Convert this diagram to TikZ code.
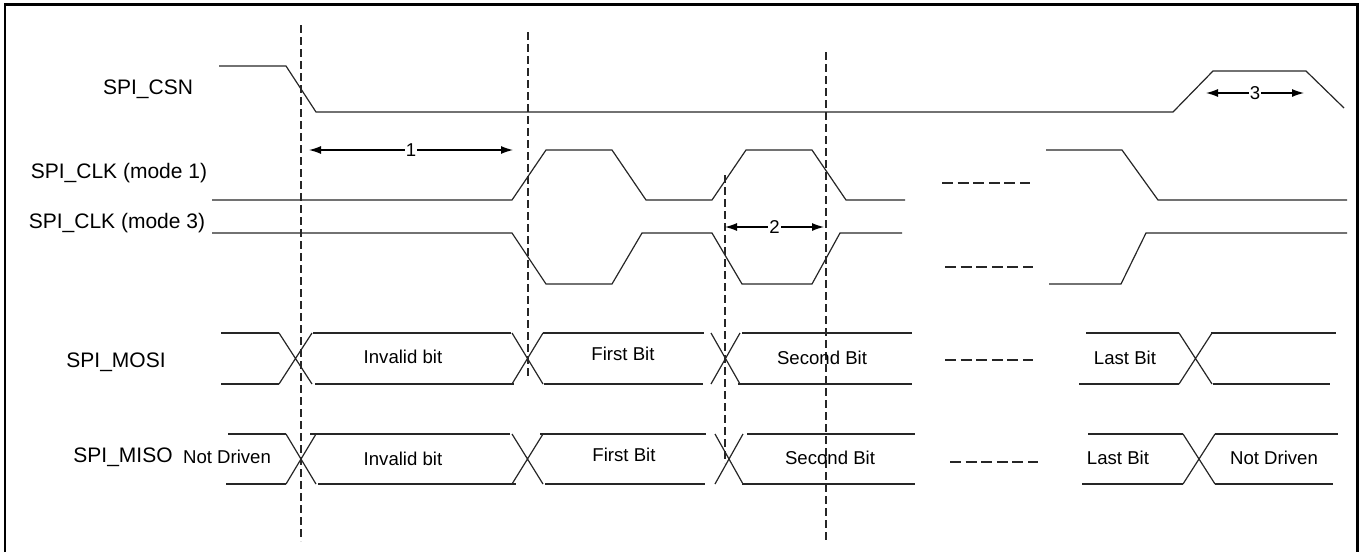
\documentclass[tikz,border=0pt]{standalone}
\usepackage{fontspec}
\setmainfont{Liberation Sans}
\usetikzlibrary{arrows.meta}
\begin{document}
\begin{tikzpicture}[x=0.5pt,y=-0.5pt,
  sig/.style={line width=0.6pt, draw=black!85, line join=miter},
  guide/.style={line width=0.6pt, draw=black!85, dash pattern=on 4pt off 2pt},
  gapline/.style={line width=0.6pt, draw=black!85, dash pattern=on 5.5pt off 2.3pt},
  lbl/.style={font=\fontsize{10.5pt}{12pt}\selectfont, inner sep=0pt},
  bit/.style={font=\fontsize{9.3pt}{11pt}\selectfont, inner sep=0pt},
  dim/.style={line width=0.6pt, {Latex[length=6pt,width=4pt]}-{Latex[length=6pt,width=4pt]}},
  num/.style={font=\fontsize{9.3pt}{11pt}\selectfont, fill=white, inner sep=0.6pt}]
\useasboundingbox (0,0) rectangle (1361,552);
% frame
\draw[line width=1.3pt] (5,552) -- (5,4.5) -- (1357.5,4.5) -- (1357.5,552);

% signal names
\node[lbl] (ncsn) at (148,89) {SPI\_CSN};
\node[lbl] (nclk1) at (119,173) {SPI\_CLK (mode 1)};
\node[lbl] (nclk3) at (117,223) {SPI\_CLK (mode 3)};
\node[lbl] (nmosi) at (116,362) {SPI\_MOSI};
\node[lbl] (nmiso) at (123,457) {SPI\_MISO};

% dashed guides
\coordinate (g1t) at (301,25);  \coordinate (g1b) at (301,541);
\coordinate (g2t) at (528,32);  \coordinate (g2b) at (528,377);
\coordinate (g3t) at (725,175); \coordinate (g3b) at (725,463);
\coordinate (g4t) at (826,52);  \coordinate (g4b) at (826,541);
\draw[guide] (g1t) -- (g1b);
\draw[guide] (g2t) -- (g2b);
\draw[guide] (g3t) -- (g3b);
\draw[guide] (g4t) -- (g4b);

% SPI_CSN
\draw[sig] (219,66) -- (286,66) -- (316,112) -- (1173,112) -- (1213,71) -- (1306,71) -- (1344,108);

% SPI_CLK mode 1
\draw[sig] (212,200) -- (512,200) -- (546,150) -- (612,150) -- (646,200) -- (712,200) -- (746,150) -- (812,150) -- (846,200) -- (905,200);
\draw[gapline] (942,183) -- (1030,183);
\draw[sig] (1046,150) -- (1122,150) -- (1158,200) -- (1347,200);

% SPI_CLK mode 3
\draw[sig] (212,233) -- (512,233) -- (546,284) -- (612,284) -- (642,233) -- (712,233) -- (742,284) -- (812,284) -- (840,233) -- (902,233);
\draw[gapline] (945,267) -- (1033,267);
\draw[sig] (1049,284) -- (1121,284) -- (1146,233) -- (1347,233);

% SPI_MOSI bus (top 333, bottom 384)
\foreach \a/\b in {221/279, 313/511, 543/704, 742/912, 1086/1179, 1211/1336}
  \draw[sig] (\a,333) -- (\b,333);
\foreach \a/\b in {221/279, 315/514, 544/703, 738/912, 1079/1179, 1213/1330}
  \draw[sig] (\a,384) -- (\b,384);
\foreach \a/\b in {279/312, 512/543, 711/740, 1179/1212}
  \draw[sig] (\a,333) -- (\b,384) (\a,384) -- (\b,333);
\draw[gapline] (945,360) -- (1033,360);
\node[bit] (m1) at (403,357) {Invalid bit};
\node[bit] (m2) at (623,354) {First Bit};
\node[bit] (m3) at (822,358) {Second Bit};
\node[bit] (m4) at (1125,358) {Last Bit};

% SPI_MISO bus (top 434, bottom 484)
\foreach \a/\b in {228/286, 310/510, 540/706, 747/915, 1088/1183, 1215/1338}
  \draw[sig] (\a,434) -- (\b,434);
\foreach \a/\b in {226/286, 318/516, 545/705, 742/915, 1082/1183, 1215/1333}
  \draw[sig] (\a,484) -- (\b,484);
\foreach \a/\b in {286/316, 512/543, 715/743, 1183/1215}
  \draw[sig] (\a,434) -- (\b,484) (\a,484) -- (\b,434);
\draw[gapline] (950,462) -- (1038,462);
\node[bit] (s0) at (227,457) {Not Driven};
\node[bit] (s1) at (403,459) {Invalid bit};
\node[bit] (s2) at (624,455) {First Bit};
\node[bit] (s3) at (830,458) {Second Bit};
\node[bit] (s4) at (1118,458) {Last Bit};
\node[bit] (s5) at (1274,458) {Not Driven};

% timing arrows
\coordinate (a1l) at (309,150); \coordinate (a1r) at (513,150);
\coordinate (a2l) at (725,227); \coordinate (a2r) at (824,227);
\coordinate (a3l) at (1206,93); \coordinate (a3r) at (1304,93);
\draw[dim] (a1l) -- node[num] (t1) {1} (a1r);
\draw[dim] (a2l) -- node[num] (t2) {2} (a2r);
\draw[dim] (a3l) -- node[num] (t3) {3} (a3r);
\end{tikzpicture}
\end{document}
